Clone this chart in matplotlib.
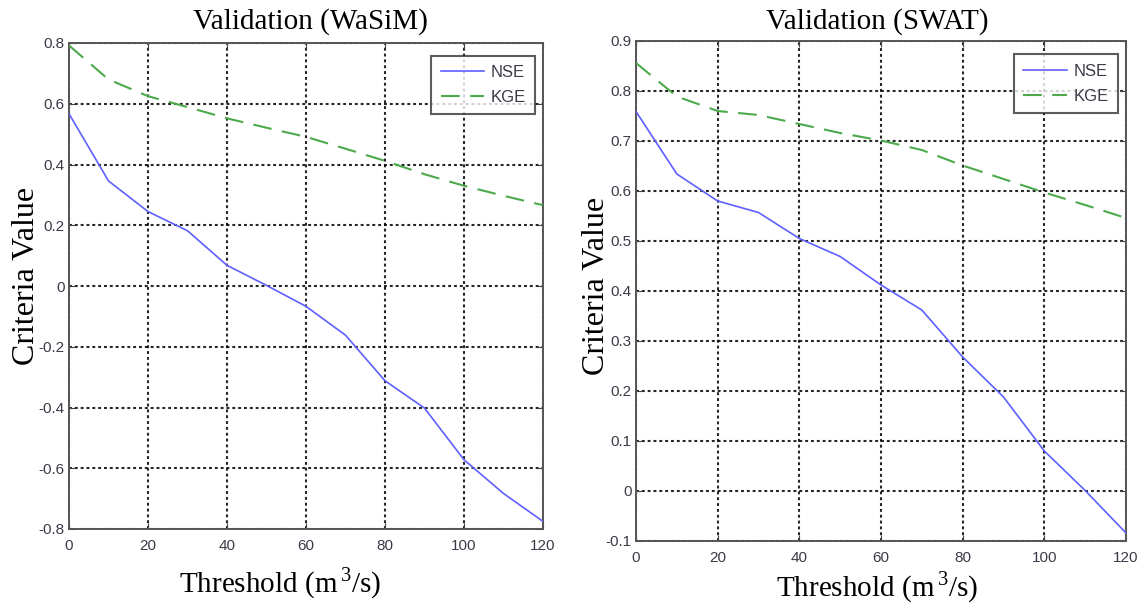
import matplotlib
matplotlib.use("Agg")
import matplotlib.pyplot as plt

# ---- data ----
threshold = [0, 10, 20, 30, 40, 50, 60, 70, 80, 90, 100, 110, 120]
wasim_nse = [0.567, 0.346, 0.245, 0.182, 0.068, 0.002, -0.067, -0.162, -0.312, -0.402, -0.572, -0.683, -0.775]
wasim_kge = [0.792, 0.680, 0.625, 0.589, 0.552, 0.521, 0.491, 0.452, 0.412, 0.368, 0.330, 0.297, 0.266]
swat_nse = [0.759, 0.634, 0.580, 0.557, 0.505, 0.469, 0.412, 0.362, 0.268, 0.188, 0.080, 0.001, -0.084]
swat_kge = [0.856, 0.789, 0.760, 0.752, 0.734, 0.716, 0.701, 0.682, 0.651, 0.624, 0.597, 0.572, 0.546]

titles = ["Validation (WaSiM)", "Validation (SWAT)"]
series_labels = ["NSE", "KGE"]
xticks = [0, 20, 40, 60, 80, 100, 120]
yticks_wasim = [-0.8, -0.6, -0.4, -0.2, 0, 0.2, 0.4, 0.6, 0.8]
yticks_swat = [-0.1, 0, 0.1, 0.2, 0.3, 0.4, 0.5, 0.6, 0.7, 0.8, 0.9]
ylims = [(-0.8, 0.8), (-0.1, 0.9)]

plt.rcParams['mathtext.fontset'] = 'custom'
plt.rcParams['mathtext.rm'] = 'Liberation Serif'

W, H = 1142, 605
fig = plt.figure(figsize=(W / 100, H / 100), dpi=100)

def px_rect(l, t, r, b):
    return [l / W, 1 - b / H, (r - l) / W, (b - t) / H]

ax1 = fig.add_axes(px_rect(69, 43, 543, 529))
ax2 = fig.add_axes(px_rect(636, 41, 1126, 541))

serif = 'Liberation Serif'
tickfont = ['Liberation Sans']
tickcolor = '#3c3a48'

datasets = [(ax1, wasim_nse, wasim_kge, yticks_wasim, ylims[0]),
            (ax2, swat_nse, swat_kge, yticks_swat, ylims[1])]
label_coords = [dict(xl=(0.445, -0.112), yl=(-0.089, 0.52), title=(310, 22)),
                dict(xl=(0.492, -0.092), yl=(-0.080, 0.51), title=(877, 22))]

for i, (ax, nse, kge, yt, yl) in enumerate(datasets):
    ax.plot(threshold, nse, color='#5f5fff', lw=1.2, label=series_labels[0], zorder=3)
    ax.plot(threshold, kge, color='#4caa4c', lw=1.5, linestyle=(0, (9, 5)),
            label=series_labels[1], zorder=3)
    ax.set_xlim(0, 120)
    ax.set_ylim(*yl)
    ax.set_xticks(xticks)
    ax.set_yticks(yt)
    ax.set_xticklabels([str(v) for v in xticks], family=tickfont, fontsize=11, color=tickcolor)
    ax.set_yticklabels([('%g' % v) for v in yt], family=tickfont, fontsize=11, color=tickcolor)
    ax.tick_params(axis='both', direction='in', length=4, top=True, right=True, colors='#444444',
                   labelcolor=tickcolor)
    ax.tick_params(axis='x', pad=7)
    ax.tick_params(axis='y', pad=3)
    ax.grid(True, color='black', linestyle=(0, (1.4, 1.4)), lw=1.5, alpha=0.85)
    for s in ax.spines.values():
        s.set_color('#555555')
        s.set_linewidth(1.4)
    lc = label_coords[i]
    ax.set_xlabel('Threshold (m$^{\\,3}$/s)', family=serif, fontsize=21, color='black', va='center')
    ax.xaxis.set_label_coords(*lc['xl'])
    ax.set_ylabel('Criteria Value', family=serif, fontsize=23, color='black', va='center')
    ax.yaxis.set_label_coords(*lc['yl'])
    fig.text(lc['title'][0] / W, 1 - lc['title'][1] / H, titles[i], family=serif, fontsize=21,
             ha='center', va='center')
    leg = ax.legend(loc='upper right', bbox_to_anchor=(0.99, 0.98), prop={'family': tickfont, 'size': 12},
                    frameon=True, fancybox=False, handlelength=2.6, borderpad=0.55,
                    labelspacing=0.6, handletextpad=0.4, borderaxespad=0.2)
    leg.get_frame().set_edgecolor('#333333')
    leg.get_frame().set_linewidth(1.5)
    for t in leg.get_texts():
        t.set_color(tickcolor)

fig.savefig('out.png', dpi=100)
